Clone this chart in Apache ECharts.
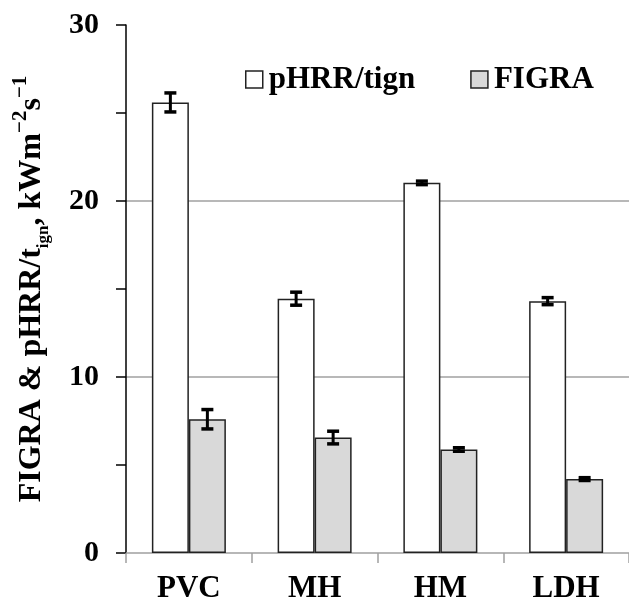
<!DOCTYPE html>
<html><head><meta charset="utf-8">
<script src="https://cdn.jsdelivr.net/npm/echarts@6/dist/echarts.min.js"></script>
<style>html,body{margin:0;padding:0;background:#fff}#c{width:629px;height:604px}</style>
</head><body><div id="c"></div>
<script>
var categories = ['PVC', 'MH', 'HM', 'LDH'];
var pHRR = [25.6, 14.45, 21.03, 14.31];
var pHRRErr = [0.54, 0.37, 0.1, 0.2];
var figra = [7.6, 6.56, 5.88, 4.2];
var figraErr = [0.55, 0.36, 0.1, 0.08];
var yTicks = [0, 10, 20, 30];

var FONT = '"Liberation Serif", "Times New Roman", serif';
var BAR_W = 37;

function errSeries(values, errs, side) {
  return {
    type: 'custom',
    silent: true,
    z: 5,
    data: values.map(function (v, i) { return [i, v, errs[i]]; }),
    renderItem: function (params, api) {
      var i = api.value(0), v = api.value(1), e = api.value(2);
      var top = api.coord([i, v + e]);
      var bot = api.coord([i, v - e]);
      var x = top[0] + side * BAR_W / 2;
      var cap = 6;
      var st = { stroke: '#000', lineWidth: 3.5 };
      return {
        type: 'group',
        children: [
          { type: 'line', shape: { x1: x, y1: top[1], x2: x, y2: bot[1] }, style: { stroke: '#000', lineWidth: 3 } },
          { type: 'line', shape: { x1: x - cap, y1: top[1], x2: x + cap, y2: top[1] }, style: st },
          { type: 'line', shape: { x1: x - cap, y1: bot[1], x2: x + cap, y2: bot[1] }, style: st }
        ]
      };
    }
  };
}

var chart = echarts.init(document.getElementById('c'));
chart.setOption({
  animation: false,
  backgroundColor: '#fff',
  textStyle: { fontFamily: FONT },
  grid: { left: 126, right: -4, top: 25, bottom: 50, containLabel: false },
  legend: {
    top: 59, left: 240,
    itemWidth: 17, itemHeight: 17, itemGap: 55,
    textStyle: { fontFamily: FONT, fontWeight: 'bold', fontSize: 31, color: '#000', padding: [0, 0, 0, 1] },
    data: [
      { name: 'pHRR/tign', icon: 'rect', itemStyle: { color: '#fff', borderColor: '#222', borderWidth: 1.5 } },
      { name: 'FIGRA', icon: 'rect', itemStyle: { color: '#d9d9d9', borderColor: '#222', borderWidth: 1.5 } }
    ]
  },
  xAxis: {
    type: 'category',
    data: categories,
    axisLine: { lineStyle: { color: '#a0a0a0', width: 1.5 } },
    axisTick: { show: true, length: 10, lineStyle: { color: '#a0a0a0', width: 1.5 } },
    axisLabel: { fontFamily: FONT, fontWeight: 'bold', fontSize: 31, color: '#000', margin: 20 }
  },
  yAxis: {
    type: 'value', min: 0, max: 30, interval: 10,
    axisLine: { show: true, lineStyle: { color: '#000', width: 1.5 } },
    axisTick: { show: true, length: 10, lineStyle: { color: '#000', width: 1.5 } },
    minorTick: { show: true, splitNumber: 2, length: 10, lineStyle: { color: '#000', width: 1.5 } },
    splitLine: { show: true, lineStyle: { color: ['rgba(0,0,0,0)', '#a0a0a0', '#a0a0a0', 'rgba(0,0,0,0)'], width: 1.5 } },
    axisLabel: {
      fontFamily: FONT, fontWeight: 'bold', fontSize: 30, color: '#000', margin: 27,
      formatter: function (v) { return yTicks.indexOf(v) >= 0 ? String(v) : ''; }
    },
    name: '{m|FIGRA & pHRR/t}{sub|ign}{m|, kWm}{sup|−2}{m|s}{sup|−1}',
    nameLocation: 'middle',
    nameGap: 72,
    nameRotate: 90,
    nameTextStyle: {
      rich: {
        m: { fontFamily: FONT, fontWeight: 'bold', fontSize: 32, color: '#000', lineHeight: 44, verticalAlign: 'middle' },
        sub: { fontFamily: FONT, fontWeight: 'bold', fontSize: 17, color: '#000', lineHeight: 44, verticalAlign: 'bottom', padding: [0, 0, 2, 0] },
        sup: { fontFamily: FONT, fontWeight: 'bold', fontSize: 21, color: '#000', lineHeight: 44, verticalAlign: 'top', padding: [0, 0, 0, 0] }
      }
    }
  },
  series: [
    {
      name: 'pHRR/tign', type: 'bar', data: pHRR, barWidth: BAR_W, barGap: '0%',
      itemStyle: { color: '#fff', borderColor: '#222', borderWidth: 1.5 }
    },
    {
      name: 'FIGRA', type: 'bar', data: figra, barWidth: BAR_W, barGap: '0%',
      itemStyle: { color: '#d9d9d9', borderColor: '#222', borderWidth: 1.5 }
    },
    errSeries(pHRR, pHRRErr, -1),
    errSeries(figra, figraErr, 1)
  ]
});
</script></body></html>
